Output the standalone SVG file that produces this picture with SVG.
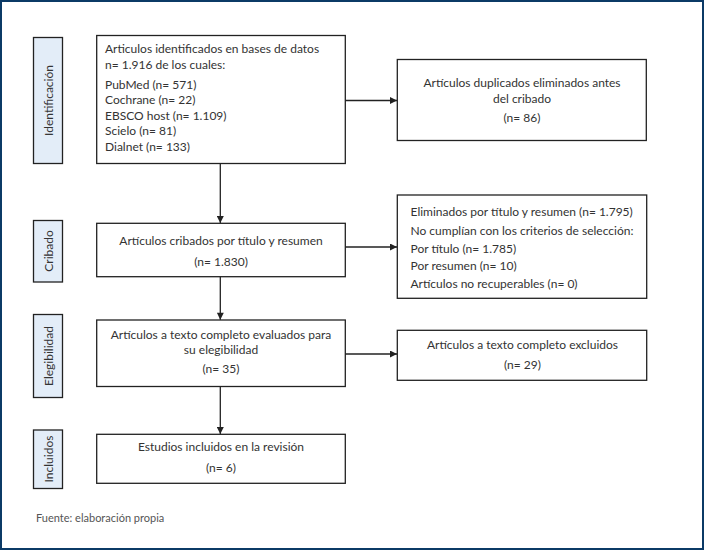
<svg xmlns="http://www.w3.org/2000/svg" width="706" height="551" viewBox="0 0 706 551">
<defs>
<marker id="ah" viewBox="0 0 10 10" refX="10" refY="5" markerWidth="8" markerHeight="7" markerUnits="userSpaceOnUse" orient="auto">
<path d="M0,0 L10,5 L0,10 z" fill="#222"/>
</marker>
<style>
.box{fill:#fff;stroke:#222;stroke-width:1.3}
.lab{fill:#e3edf8;stroke:#222;stroke-width:1.3}
.t{font-family:Lato,"Liberation Sans",sans-serif;font-size:12px;fill:#333}
.c{text-anchor:middle}
.conn{stroke:#222;stroke-width:1.3;fill:none;marker-end:url(#ah)}
</style>
</defs>
<rect x="0" y="0" width="706" height="551" fill="#fff"/>
<rect x="1" y="1" width="702" height="548" fill="none" stroke="#0b3a66" stroke-width="2"/>

<g id="lab-identificacion"><rect class="lab" x="33.5" y="37.5" width="29" height="126"/><text class="t c" transform="translate(52.5,100.5) rotate(-90)">Identificación</text></g>
<g id="lab-cribado"><rect class="lab" x="33.5" y="220.5" width="29" height="61.5"/><text class="t c" transform="translate(52.5,251) rotate(-90)">Cribado</text></g>
<g id="lab-elegibilidad"><rect class="lab" x="33.5" y="314.5" width="29" height="83"/><text class="t c" transform="translate(52.5,356) rotate(-90)">Elegibilidad</text></g>
<g id="lab-incluidos"><rect class="lab" x="33.5" y="430" width="29" height="58.5"/><text class="t c" transform="translate(52.5,459) rotate(-90)">Incluidos</text></g>

<g id="n-identificados"><rect class="box" x="96.7" y="35.5" width="248.6" height="128"/>
<text class="t" x="105" y="53">Articulos identificados en bases de datos</text>
<text class="t" x="105" y="68.5">n= 1.916 de los cuales:</text>
<text class="t" x="105" y="88.5">PubMed (n= 571)</text>
<text class="t" x="105" y="104">Cochrane (n= 22)</text>
<text class="t" x="105" y="119.5">EBSCO host (n= 1.109)</text>
<text class="t" x="105" y="135">Scielo (n= 81)</text>
<text class="t" x="105" y="150.5">Dialnet (n= 133)</text>
</g>

<g id="n-duplicados"><rect class="box" x="397.3" y="59.5" width="249" height="81"/>
<text class="t c" x="522" y="87">Artículos duplicados eliminados antes</text>
<text class="t c" x="522" y="103">del cribado</text>
<text class="t c" x="522" y="122">(n= 86)</text>
</g>

<g id="n-cribados"><rect class="box" x="96.7" y="223.3" width="248.6" height="53.4"/>
<text class="t c" x="221" y="245">Artículos cribados por título y resumen</text>
<text class="t c" x="221" y="266">(n= 1.830)</text>
</g>

<g id="n-eliminados"><rect class="box" x="397.3" y="195" width="249.4" height="103.3"/>
<text class="t" x="410.5" y="215.5">Eliminados por título y resumen (n= 1.795)</text>
<text class="t" x="410.5" y="234.5">No cumplían con los criterios de selección:</text>
<text class="t" x="410.5" y="252.5">Por título (n= 1.785)</text>
<text class="t" x="410.5" y="270">Por resumen (n= 10)</text>
<text class="t" x="410.5" y="288">Artículos no recuperables (n= 0)</text>
</g>

<g id="n-evaluados"><rect class="box" x="96.7" y="320" width="248.6" height="66.5"/>
<text class="t c" x="221" y="338.5">Artículos a texto completo evaluados para</text>
<text class="t c" x="221" y="354">su elegibilidad</text>
<text class="t c" x="221" y="373">(n= 35)</text>
</g>

<g id="n-excluidos"><rect class="box" x="397.3" y="330.3" width="249.4" height="50"/>
<text class="t c" x="522.5" y="349">Artículos a texto completo excluidos</text>
<text class="t c" x="522.5" y="368.5">(n= 29)</text>
</g>

<g id="n-incluidos"><rect class="box" x="96.7" y="434.3" width="248.6" height="49"/>
<text class="t c" x="221" y="451">Estudios incluidos en la revisión</text>
<text class="t c" x="221" y="472">(n= 6)</text>
</g>

<text class="t" x="36" y="522" style="font-size:11px;fill:#555">Fuente: elaboración propia</text>

<g id="connectors">
<line class="conn" x1="220.3" y1="163.5" x2="220.3" y2="223"/>
<line class="conn" x1="345.3" y1="100.5" x2="397" y2="100.5"/>
<line class="conn" x1="220.3" y1="276.7" x2="220.3" y2="319.7"/>
<line class="conn" x1="345.3" y1="247" x2="397" y2="247"/>
<line class="conn" x1="345.3" y1="354" x2="397" y2="354"/>
<line class="conn" x1="220.3" y1="386.5" x2="220.3" y2="434"/>
</g>
</svg>
